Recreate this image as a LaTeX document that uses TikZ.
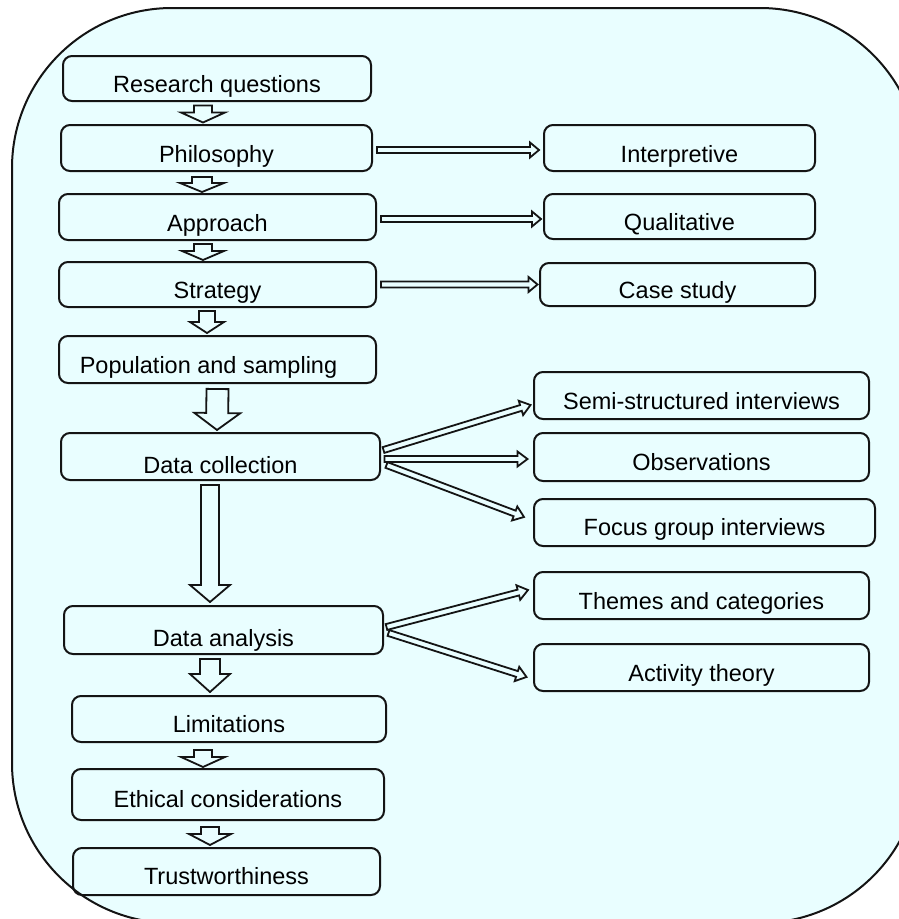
\documentclass[tikz,border=0pt]{standalone}
\usepackage{fontspec}
\setmainfont{Liberation Sans}
\usetikzlibrary{calc}

\definecolor{panelfill}{RGB}{233,254,255}
\definecolor{inkline}{RGB}{20,20,20}

% Outlined block arrow: [style] tail, tip, half shaft width, half head width, head length
\newcommand\blockarrow[6][]{%
  \coordinate (babase) at ($(#3)!#6!(#2)$);
  \draw[barrow,#1]
    ($(#2)!#4!90:(#3)$) -- ($(babase)!#4!90:(#3)$) -- ($(babase)!#5!90:(#3)$) --
    (#3) --
    ($(babase)!#5!-90:(#3)$) -- ($(babase)!#4!-90:(#3)$) -- ($(#2)!#4!-90:(#3)$) -- cycle;
}

\tikzset{
  box/.style={draw=inkline, line width=2pt, rounded corners=9pt, inner sep=0pt,
    text=black, font=\fontsize{23.5}{28}\selectfont, text depth=0pt, text height=28.8pt},
  lowtext/.style={text height=#1},
  barrow/.style={draw=inkline, fill=panelfill, line width=1.8pt, line join=miter},
}

\begin{document}
\begin{tikzpicture}[x=1pt,y=-1pt]
\useasboundingbox (0,0) rectangle (899,919);

% background panel
\begin{scope}
  \clip (0,0) rectangle (899,919);
  \draw[draw=inkline, line width=2pt, fill=panelfill, rounded corners=160pt] (12,8) rectangle (920,923);
\end{scope}

% main column
\node[box, minimum width=308pt, minimum height=45pt] (rq)    at (217,78.5)   {Research questions};
\node[box, minimum width=311pt, minimum height=46pt] (phil)  at (216.5,148)  {Philosophy};
\node[box, minimum width=317pt, minimum height=46pt] (appr)  at (217.5,217)  {Approach};
\node[box, minimum width=317pt, minimum height=45pt] (strat) at (217.5,284.5) {Strategy};
\node[box, minimum width=317pt, minimum height=47pt] (pop)   at (217.5,359.5) {Population and sampling\hspace*{18pt}};
\node[box, minimum width=319pt, minimum height=47pt, lowtext=33pt] (dc) at (220.5,456.5) {Data collection};
\node[box, minimum width=319pt, minimum height=48pt, lowtext=32pt] (da) at (223.5,630)   {Data analysis};
\node[box, minimum width=314pt, minimum height=46pt, lowtext=27.8pt] (lim) at (229,719)  {Limitations};
\node[box, minimum width=312pt, minimum height=51pt, lowtext=25.8pt] (eth) at (228,794.5) {Ethical considerations};
\node[box, minimum width=307pt, minimum height=47pt, lowtext=25.8pt] (tr)  at (226.5,871.5) {Trustworthiness};

% side column
\node[box, minimum width=271pt, minimum height=46pt] (interp) at (679.5,148)   {Interpretive};
\node[box, minimum width=271pt, minimum height=45pt] (qual)   at (679.5,216.5) {Qualitative};
\node[box, minimum width=275pt, minimum height=43pt] (case)   at (677.5,284.5) {Case study};
\node[box, minimum width=335pt, minimum height=47pt, lowtext=27.8pt] (semi)   at (701.5,395.5) {Semi-structured interviews};
\node[box, minimum width=335pt, minimum height=48pt, lowtext=27.8pt] (obs)    at (701.5,457)   {Observations};
\node[box, minimum width=341pt, minimum height=47pt, lowtext=26.8pt] (focus)  at (704.5,522.5) {Focus group interviews};
\node[box, minimum width=335pt, minimum height=47pt, lowtext=27.8pt] (themes) at (701.5,595.5) {Themes and categories};
\node[box, minimum width=335pt, minimum height=47pt, lowtext=27.8pt] (act)    at (701.5,667.5) {Activity theory};

% arrow ends along the main column
\coordinate (v1a) at ($(rq.south)+(-14,3.5)$);     \coordinate (v1b) at ($(phil.north)+(-13.5,-1.5)$);
\coordinate (v2a) at ($(phil.south)+(-14.5,5)$);   \coordinate (v2b) at ($(appr.north)+(-15.5,-1)$);
\coordinate (v3a) at ($(appr.south)+(-14.5,3)$);   \coordinate (v3b) at ($(strat.north)+(-14.5,-1)$);
\coordinate (v4a) at ($(strat.south)+(-10.5,3)$);  \coordinate (v4b) at ($(pop.north)+(-10.5,-2)$);
\coordinate (v5a) at ($(pop.south)+(0,5)$);        \coordinate (v5b) at ($(dc.north)+(-3.5,-2)$);
\coordinate (v6a) at ($(dc.south)+(-10.5,4)$);     \coordinate (v6b) at ($(da.north)+(-13.5,-3)$);
\coordinate (v7a) at ($(da.south)+(-13.5,4)$);     \coordinate (v7b) at ($(lim.north)+(-19,-3)$);
\coordinate (v8a) at ($(lim.south)+(-26,7)$);      \coordinate (v8b) at ($(eth.north)+(-25,-1)$);
\coordinate (v9a) at ($(eth.south)+(-18,6)$);      \coordinate (v9b) at ($(tr.north)+(-16.5,-2)$);

\blockarrow{v1a}{v1b}{9pt}{22pt}{10pt}
\blockarrow{v2a}{v2b}{10pt}{22pt}{9pt}
\blockarrow{v3a}{v3b}{9pt}{21pt}{9pt}
\blockarrow{v4a}{v4b}{8pt}{17pt}{11pt}
\blockarrow{v5a}{v5b}{11pt}{23pt}{17pt}
\blockarrow{v6a}{v6b}{9pt}{20pt}{17pt}
\blockarrow{v7a}{v7b}{10pt}{20pt}{18pt}
\blockarrow{v8a}{v8b}{9pt}{22pt}{10pt}
\blockarrow{v9a}{v9b}{9pt}{21pt}{11pt}

% arrows to the side column
\coordinate (h1a) at ($(phil.east)+(4,2)$);   \coordinate (h1b) at ($(interp.west)+(-4,2)$);
\coordinate (h2a) at ($(appr.east)+(4,2)$);   \coordinate (h2b) at ($(qual.west)+(-2,2.5)$);
\coordinate (h3a) at ($(strat.east)+(4,0)$);  \coordinate (h3b) at ($(case.west)+(-1.5,0)$);

\blockarrow{h1a}{h1b}{3pt}{7.5pt}{9pt}
\blockarrow{h2a}{h2b}{3pt}{7.5pt}{9pt}
\blockarrow{h3a}{h3b}{3pt}{7.5pt}{9pt}

\coordinate (d1a) at ($(dc.east)+(2.5,-6.5)$); \coordinate (d1b) at ($(semi.west)+(-2.5,9.5)$);
\coordinate (d2a) at ($(dc.east)+(3.5,2.5)$);  \coordinate (d2b) at ($(obs.west)+(-5.5,2)$);
\coordinate (d3a) at ($(dc.east)+(5.5,8.5)$);  \coordinate (d3b) at ($(focus.west)+(-9,-5.5)$);
\coordinate (d4a) at ($(da.east)+(2.5,-3)$);   \coordinate (d4b) at ($(themes.west)+(-5,-5.5)$);
\coordinate (d5a) at ($(da.east)+(4.5,3)$);    \coordinate (d5b) at ($(act.west)+(-6.5,9.5)$);

\blockarrow{d1a}{d1b}{3pt}{7.5pt}{10pt}
\blockarrow{d2a}{d2b}{3pt}{7.5pt}{10pt}
\blockarrow{d3a}{d3b}{3pt}{7.5pt}{10pt}
\blockarrow{d4a}{d4b}{3pt}{7.5pt}{10pt}
\blockarrow{d5a}{d5b}{3pt}{7.5pt}{10pt}
\end{tikzpicture}
\end{document}
